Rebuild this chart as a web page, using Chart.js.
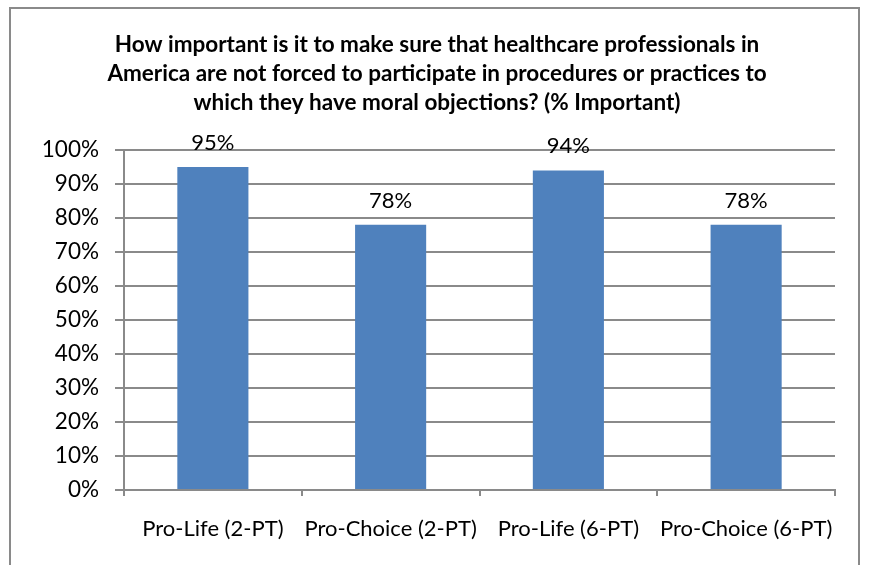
<!DOCTYPE html>
<html>
<head>
<meta charset="utf-8">
<script src="https://cdn.jsdelivr.net/npm/chart.js@4/dist/chart.umd.min.js"></script>
<style>
  html, body { margin: 0; padding: 0; background: #fff; overflow: hidden; }
  #cadre {
    position: absolute; left: 9px; top: 7px; width: 851px; height: 600px;
    border: 2px solid #8a8a8a; box-sizing: border-box;
  }
  #zone { position: absolute; left: 0; top: 0; width: 869px; height: 565px; }
</style>
</head>
<body>
<div id="cadre"></div>
<div id="zone"><canvas id="graphique" width="869" height="565"></canvas></div>
<script>
// Données du graphique
const categories = ['Pro-Life (2-PT)', 'Pro-Choice (2-PT)', 'Pro-Life (6-PT)', 'Pro-Choice (6-PT)'];
const valeurs = [95, 78, 94, 78];
const titre = [
  'How important is it to make sure that healthcare professionals in',
  'America are not forced to participate in procedures or practices to',
  'which they have moral objections? (% Important)'
];

const POLICE = 'Lato, "Open Sans", sans-serif';
const GRIS = '#8a8a8a';

// Titre centré sur toute la largeur du cadre
const titreCentre = {
  id: 'titreCentre',
  afterDraw(chart) {
    const ctx = chart.ctx;
    ctx.save();
    ctx.font = 'bold 22.5px ' + POLICE;
    ctx.fillStyle = '#000';
    ctx.textAlign = 'center';
    ctx.textBaseline = 'alphabetic';
    titre.forEach((ligne, i) => {
      ctx.fillText(ligne, 437, 52 + i * 29);
    });
    ctx.restore();
  }
};

// Étiquettes au-dessus des barres
const etiquettesBarres = {
  id: 'etiquettesBarres',
  afterDatasetsDraw(chart) {
    const ctx = chart.ctx;
    const meta = chart.getDatasetMeta(0);
    ctx.save();
    ctx.font = '22px ' + POLICE;
    ctx.fillStyle = '#000';
    ctx.textAlign = 'center';
    ctx.textBaseline = 'alphabetic';
    meta.data.forEach((barre, i) => {
      ctx.fillText(valeurs[i] + '%', barre.x, barre.y - 17);
    });
    ctx.restore();
  }
};

new Chart(document.getElementById('graphique'), {
  type: 'bar',
  data: {
    labels: categories,
    datasets: [{
      data: valeurs,
      backgroundColor: '#4F81BD',
      borderWidth: 0,
      categoryPercentage: 1,
      barPercentage: 0.4
    }]
  },
  options: {
    responsive: false,
    animation: false,
    layout: { padding: { left: 0, right: 34, top: 150, bottom: 0 } },
    plugins: {
      legend: { display: false },
      tooltip: { enabled: false },
      title: { display: false }
    },
    scales: {
      x: {
        offset: true,
        grid: { drawOnChartArea: false, drawTicks: true, tickLength: 6, color: GRIS, lineWidth: 2, offset: true },
        border: { color: GRIS, width: 2 },
        ticks: {
          color: '#000',
          font: { family: POLICE, size: 22 },
          padding: 20,
          maxRotation: 0,
          minRotation: 0,
          autoSkip: false
        },
        afterFit(scale) { scale.height = 75; }
      },
      y: {
        min: 0,
        max: 100,
        ticks: {
          stepSize: 10,
          color: '#000',
          font: { family: POLICE, size: 22.5 },
          padding: 16,
          callback: v => v + '%'
        },
        grid: { color: GRIS, lineWidth: 2, tickLength: 9 },
        border: { color: GRIS, width: 2 },
        afterFit(scale) { scale.width = 124; }
      }
    }
  },
  plugins: [titreCentre, etiquettesBarres]
});
</script>
</body>
</html>
